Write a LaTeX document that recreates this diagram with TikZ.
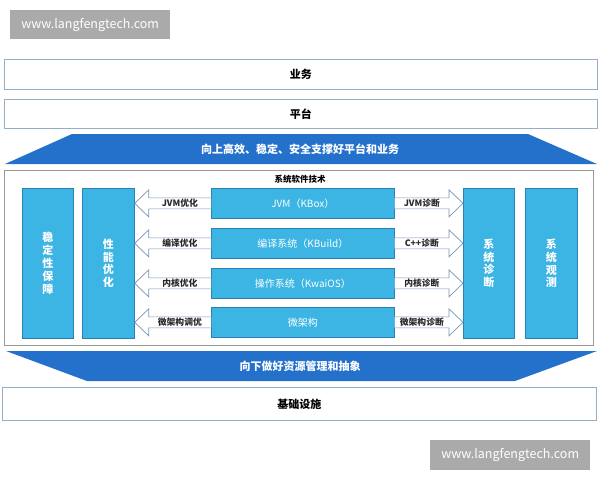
\documentclass[tikz,border=0pt]{standalone}
\usepackage{fontspec}
\setmainfont{Noto Sans CJK SC}
\usetikzlibrary{calc}
\definecolor{darkblue}{RGB}{36,113,204}
\definecolor{lightblue}{RGB}{60,181,228}
\definecolor{lbborder}{RGB}{40,130,180}
\definecolor{layerborder}{RGB}{150,175,200}
\definecolor{arrowline}{RGB}{120,150,185}
\definecolor{wmgray}{RGB}{170,170,170}
\definecolor{labeltext}{RGB}{40,40,40}
\tikzset{
  layerbox/.style={draw=layerborder, line width=0.9pt, fill=white, anchor=north west, inner sep=0pt},
  layertext/.style={font=\bfseries\fontsize{11}{13}\selectfont},
  bluebox/.style={draw=lbborder, line width=0.7pt, fill=lightblue, anchor=north west, inner sep=0pt},
  boxtext/.style={text=white, font=\fontsize{10}{12}\selectfont},
  vtext/.style={font=\bfseries\fontsize{11}{12.9}\selectfont, align=center, text=white},
  hollowarrow/.style={draw=arrowline, line width=0.7pt, fill=white},
  arrowlabel/.style={font=\bfseries\fontsize{8.8}{10}\selectfont, inner sep=0pt, text=labeltext},
  wmark/.style={fill=wmgray, anchor=north west, inner sep=0pt},
  wmtext/.style={text=white, font=\fontsize{12.5}{14}\selectfont},
  trap/.style={fill=darkblue, draw=none},
  traptext/.style={text=white, font=\bfseries\fontsize{11}{13}\selectfont},
}
\begin{document}
\begin{tikzpicture}[x=1pt,y=-1pt]
\useasboundingbox (0,0) rectangle (600,480);
% watermarks
\node[wmark, minimum width=160, minimum height=29] (wm1) at (10,10) {};
\node[wmtext] (wm1t) at (wm1.center) {www.langfengtech.com};
\node[wmark, minimum width=160, minimum height=30] (wm2) at (430,440) {};
\node[wmtext] (wm2t) at (wm2.center) {www.langfengtech.com};
% layers
\node[layerbox, minimum width=593, minimum height=30] (biz) at (4,59) {};
\node[layertext] (bizt) at (biz.center) {业务};
\node[layerbox, minimum width=593, minimum height=29] (plat) at (4,99) {};
\node[layertext] (platt) at (plat.center) {平台};
% top trapezoid
\fill[trap] (72,134) -- (528,134) -- (597,164) -- (5,164) -- cycle;
\node[traptext] (up) at (300,149.5) {向上高效、稳定、安全支撑好平台和业务};
% frame
\node[draw=gray!80, line width=0.8pt, anchor=north west, minimum width=589, minimum height=175, inner sep=0pt] (frame) at (4,170) {};
\node[font=\bfseries\fontsize{8.5}{10}\selectfont] (title) at (300,179.5) {系统软件技术};
% side boxes
\node[bluebox, minimum width=51, minimum height=150] (stab) at (22,188) {};
\node[vtext] (stabt) at (stab.center) {稳\\定\\性\\保\\障};
\node[bluebox, minimum width=52, minimum height=150] (perf) at (82,188) {};
\node[vtext] (perft) at (perf.center) {性\\能\\优\\化};
\node[bluebox, minimum width=51, minimum height=150] (diag) at (463,188) {};
\node[vtext] (diagt) at (diag.center) {系\\统\\诊\\断};
\node[bluebox, minimum width=52, minimum height=150] (obs) at (525,188) {};
\node[vtext] (obst) at (obs.center) {系\\统\\观\\测};
% middle boxes
\foreach \n/\y/\t in {m1/188/{JVM（KBox）}, m2/228/{编译系统（KBuild）}, m3/268/{操作系统（KwaiOS）}, m4/307/{微架构}}{
  \node[bluebox, minimum width=183, minimum height=30] (\n) at (211,\y) {};
  \node[boxtext] (\n t) at (\n.center) {\t};
}
% arrows
\foreach \n/\l/\r in {m1/JVM优化/JVM诊断, m2/编译优化/C++诊断, m3/内核优化/内核诊断, m4/微架构调优/微架构诊断}{
  % left arrow
  \coordinate (\n L) at (\n.west -| perf.east);
  \filldraw[hollowarrow] ($(\n.west)+(0,-5.5)$) -- ($(\n L)+(14,-5.5)$) -- ($(\n L)+(14,-13.5)$) -- (\n L) -- ($(\n L)+(14,13.5)$) -- ($(\n L)+(14,5.5)$) -- ($(\n.west)+(0,5.5)$);
  \node[arrowlabel] (\n ll) at ($($(\n L)+(14,0)$)!0.5!(\n.west)$) {\l};
  % right arrow
  \coordinate (\n R) at (\n.east -| diag.west);
  \filldraw[hollowarrow] ($(\n.east)+(0,-5.5)$) -- ($(\n R)+(-14,-5.5)$) -- ($(\n R)+(-14,-13.5)$) -- (\n R) -- ($(\n R)+(-14,13.5)$) -- ($(\n R)+(-14,5.5)$) -- ($(\n.east)+(0,5.5)$);
  \node[arrowlabel] (\n rl) at ($($(\n R)+(-14,0)$)!0.5!(\n.east)$) {\r};
}
% bottom trapezoid
\fill[trap] (6,351) -- (597,351) -- (515,381) -- (87,381) -- cycle;
\node[traptext] (down) at (300,366) {向下做好资源管理和抽象};
% infrastructure
\node[layerbox, minimum width=594, minimum height=33] (infra) at (2,387) {};
\node[layertext] (infrat) at (infra.center) {基础设施};
\end{tikzpicture}
\end{document}
